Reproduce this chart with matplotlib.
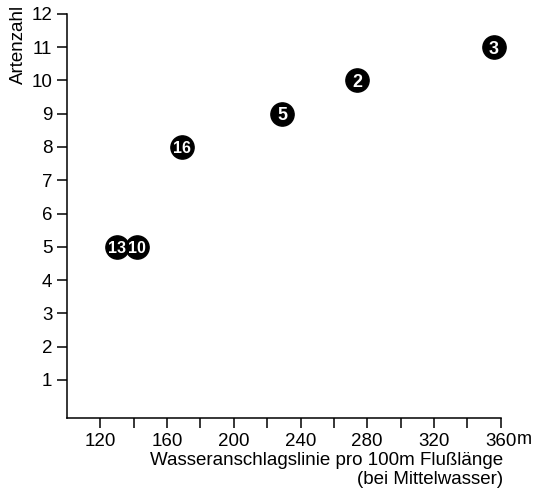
import matplotlib
matplotlib.use('Agg')
import matplotlib.pyplot as plt

# Daten: Wasseranschlagslinie (m pro 100 m) und Artenzahl
stellen = ['13', '10', '16', '5', '2', '3']
linie = [130, 142, 169, 229, 274, 356]
artenzahl = [5, 5, 8, 9, 10, 11]

x_ticks = list(range(120, 361, 20))
x_labels = [str(v) if v % 40 == 0 else '' for v in x_ticks]
y_ticks = list(range(1, 13))

plt.rcParams['font.family'] = ['Liberation Sans', 'DejaVu Sans']

fig = plt.figure(figsize=(5.34, 4.94), dpi=100)
ax = fig.add_axes([0.1255, 0.1538, 0.8121, 0.8179])

ax.scatter(linie, artenzahl, s=280, color='black', zorder=3, clip_on=False)
for nr, xv, yv in zip(stellen, linie, artenzahl):
    fs = 13 if len(nr) == 1 else 11.5
    ax.text(xv, yv, nr, color='white', fontsize=fs, fontweight='bold',
            ha='center', va='center_baseline', zorder=4)

ax.set_xlim(100, 360)
ax.set_ylim(-0.15, 12)
ax.set_xticks(x_ticks)
ax.set_xticklabels(x_labels)
ax.set_yticks(y_ticks)

for s in ['top', 'right']:
    ax.spines[s].set_visible(False)
for s in ['left', 'bottom']:
    ax.spines[s].set_linewidth(1.1)
ax.tick_params(direction='out', length=7, width=1.1, labelsize=13.5, pad=3.5)

# Einheit hinter der letzten Zahl
ax.text(517 / 534, 1 - 431 / 494, 'm', transform=fig.transFigure, fontsize=13,
        ha='left', va='top')

fig.text(0.942, 1 - 460 / 494, 'Wasseranschlagslinie pro 100m Flußlänge',
         ha='right', va='center', fontsize=13.5)
fig.text(0.942, 1 - 479 / 494, '(bei Mittelwasser)',
         ha='right', va='center', fontsize=13.5)
fig.text(0.035, 0.91, 'Artenzahl', rotation=90, ha='center', va='center', fontsize=13.5)

fig.savefig('out.png', dpi=100)
